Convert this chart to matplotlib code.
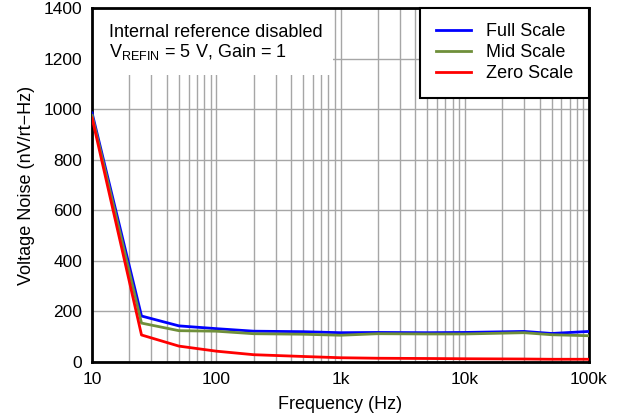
import matplotlib
matplotlib.use("Agg")
import matplotlib.pyplot as plt
from matplotlib.patches import Rectangle
from matplotlib.ticker import LogLocator, NullFormatter

plt.rcParams["font.family"] = ["Liberation Sans", "DejaVu Sans"]

freq = [10, 25, 50, 100, 200, 500, 1000, 2000, 5000, 10000, 30000, 50000, 100000]
full_scale = [985, 182, 143, 132, 122, 120, 116, 117, 116, 117, 121, 113, 121]
mid_scale = [975, 154, 124, 122, 112, 110, 106, 112, 111, 111, 116, 108, 104]
zero_scale = [965, 107, 63, 43, 29, 22, 17, 15, 14, 13, 12, 11, 11]

xticks = [10, 100, 1000, 10000, 100000]
xtick_labels = ["10", "100", "1k", "10k", "100k"]
yticks = [0, 200, 400, 600, 800, 1000, 1200, 1400]

fig = plt.figure(figsize=(6.18, 4.2), dpi=100)
ax = fig.add_axes([0.149, 0.138, 0.804, 0.843])

ax.plot(freq, full_scale, color="#0000ff", linewidth=2, label="Full Scale", zorder=4)
ax.plot(freq, mid_scale, color="#6f8f3a", linewidth=2, label="Mid Scale", zorder=4)
ax.plot(freq, zero_scale, color="#ff0000", linewidth=2, label="Zero Scale", zorder=4)

ax.set_xscale("log")
ax.set_xlim(10, 100000)
ax.set_ylim(0, 1400)
ax.set_xticks(xticks)
ax.set_xticklabels(xtick_labels)
ax.xaxis.set_minor_locator(LogLocator(base=10, subs=range(2, 10)))
ax.xaxis.set_minor_formatter(NullFormatter())
ax.set_yticks(yticks)
ax.tick_params(which="both", length=0, labelsize=12.5, pad=7)

ax.grid(which="major", axis="both", color="#a6a6a6", linewidth=1)
ax.grid(which="minor", axis="x", color="#a6a6a6", linewidth=1)
ax.set_axisbelow(True)

for s in ax.spines.values():
    s.set_linewidth(2)

ax.set_xlabel("Frequency (Hz)", fontsize=13, labelpad=7)
ax.set_ylabel("Voltage Noise (nV/rt\u2212Hz)", fontsize=13, labelpad=6)

# white box behind the note, hides the grid there
ax.add_patch(Rectangle((0, 0.811), 0.485, 0.189, transform=ax.transAxes,
                       facecolor="white", edgecolor="none", zorder=2))
ax.text(0.034, 0.954, "Internal reference disabled\nV$_{\\mathregular{REFIN}}$ = 5 V, Gain = 1",
        transform=ax.transAxes, ha="left", va="top", fontsize=13, linespacing=1.08,
        zorder=3)

leg = ax.legend(loc="upper right", fontsize=13, frameon=True, fancybox=False,
                borderaxespad=0, handlelength=1.95, labelspacing=0.22, borderpad=0.85,
                handletextpad=0.85)
leg.get_frame().set_edgecolor("black")
leg.get_frame().set_linewidth(1.5)
leg.get_frame().set_alpha(1)

fig.savefig("out.png", dpi=100)
